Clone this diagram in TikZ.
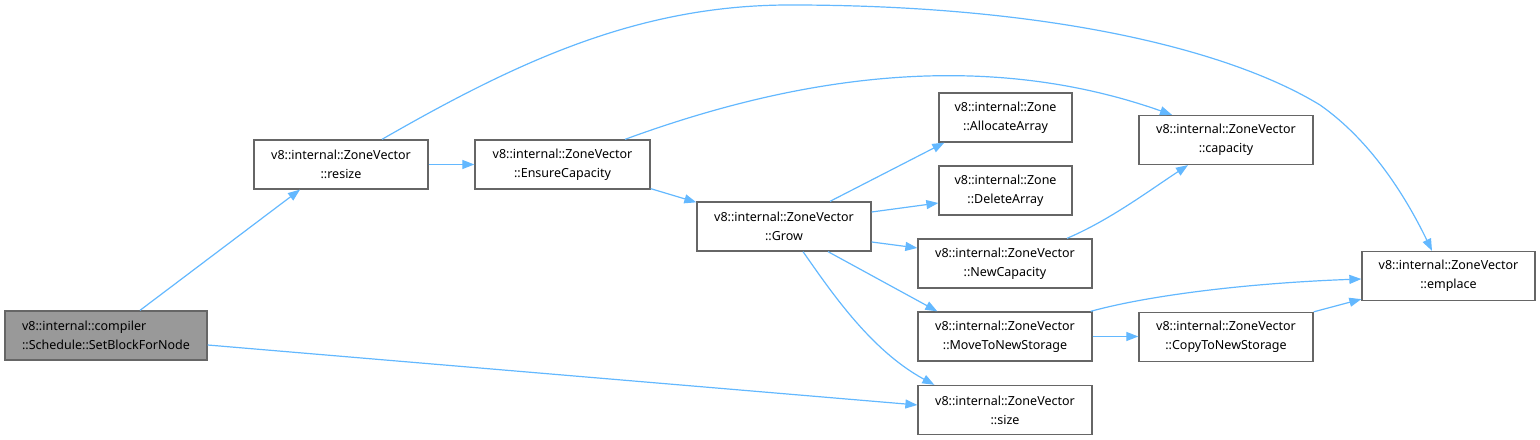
\documentclass[tikz,border=0pt]{standalone}
\usepackage{fontspec}
\setmainfont{Noto Sans}
\usetikzlibrary{arrows.meta}
\definecolor{edgeblue}{HTML}{63B8FF}
\definecolor{boxgray}{HTML}{666666}
\definecolor{fillgray}{HTML}{999999}
\tikzset{
  fn/.style={draw=boxgray, line width=1.3bp, fill=white, minimum height=49bp, inner sep=0pt, align=center,
    font=\fontsize{12.5bp}{19bp}\selectfont},
  edge/.style={draw=edgeblue, line width=1.2bp, -{Triangle[length=12bp,width=9bp]}},
}
\begin{document}
\begin{tikzpicture}[x=1bp,y=1bp]
\useasboundingbox (0,0) rectangle (1540,440);
\node[fn, fill=fillgray, minimum width=202bp, align=left] (sbn) at (106,104.5) {v8::internal::compiler\\::Schedule::SetBlockForNode};
\node[fn, minimum width=174bp] (resize) at (341,275.5) {v8::internal::ZoneVector\\::resize};
\node[fn, minimum width=175bp] (ens) at (562.5,275.5) {v8::internal::ZoneVector\\::EnsureCapacity};
\node[fn, minimum width=174bp] (grow) at (784,213.5) {v8::internal::ZoneVector\\::Grow};
\node[fn, minimum width=133bp] (alloc) at (1005.5,322.5) {v8::internal::Zone\\::AllocateArray};
\node[fn, minimum width=133bp] (del) at (1005.5,249.5) {v8::internal::Zone\\::DeleteArray};
\node[fn, minimum width=174bp] (newcap) at (1005,176.5) {v8::internal::ZoneVector\\::NewCapacity};
\node[fn, minimum width=174bp] (move) at (1005,103.5) {v8::internal::ZoneVector\\::MoveToNewStorage};
\node[fn, minimum width=174bp] (size) at (1005,30) {v8::internal::ZoneVector\\::size};
\node[fn, minimum width=174bp] (copy) at (1226,103) {v8::internal::ZoneVector\\::CopyToNewStorage};
\node[fn, minimum width=174bp] (cap) at (1226,300) {v8::internal::ZoneVector\\::capacity};
\node[fn, minimum width=173bp] (emp) at (1448.5,164) {v8::internal::ZoneVector\\::emplace};

% edges
\draw[edge] ([xshift=34bp]sbn.north) -- ([xshift=-41bp]resize.south);
\draw[edge] ([yshift=-9.5bp]sbn.east) -- ([yshift=5bp]size.west);
\draw[edge] (resize.east) -- (ens.west);
\draw[edge] ([xshift=41bp]resize.north) .. controls (520,380) and (640,435) .. (790,435)
   .. controls (1050,435) and (1230,390) .. (1320,335)
   .. controls (1370,300) and (1405,245) .. ([xshift=-16.5bp]emp.north);
\draw[edge] ([xshift=62.5bp]ens.north) .. controls (760,350) and (960,400) .. ([xshift=-54bp]cap.north);
\draw[edge] ([yshift=1bp]ens.south east) -- ([yshift=-1bp]grow.north west);
\draw[edge] ([xshift=46bp]grow.north) -- ([xshift=6bp]alloc.south west);
\draw[edge] ([yshift=14.5bp]grow.east) -- ([yshift=-12.5bp]del.west);
\draw[edge] ([yshift=-15.5bp]grow.east) -- ([yshift=15.5bp]newcap.west);
\draw[edge] ([xshift=44bp]grow.south) -- ([xshift=20bp]move.north west);
\draw[edge] ([xshift=19bp]grow.south) .. controls (830,150) and (870,90) .. ([xshift=17bp]size.north west);
\draw[edge] ([xshift=62bp]newcap.north) .. controls (1110,220) and (1150,250) .. ([xshift=-38bp]cap.south);
\draw[edge] ([xshift=-2bp]move.north east) .. controls (1150,145) and (1250,157) .. ([yshift=-3bp]emp.west);
\draw[edge] (move.east) -- (move.east -| copy.west);
\draw[edge] (copy.north east) -- ([yshift=2bp]emp.south west);
\end{tikzpicture}
\end{document}
